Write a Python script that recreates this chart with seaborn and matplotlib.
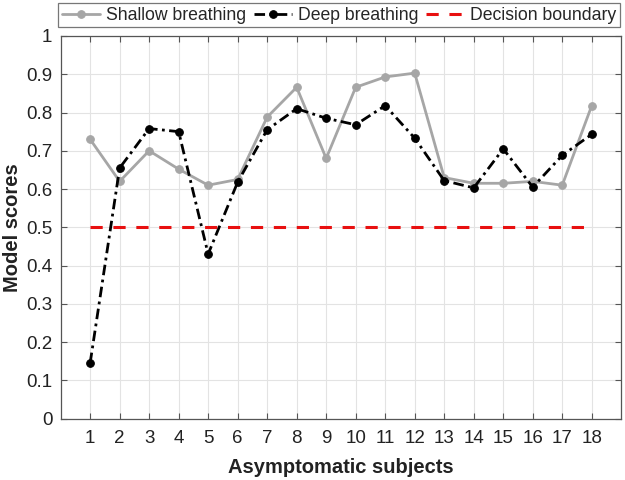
import pandas as pd
import numpy as np
import matplotlib.pyplot as plt
import seaborn as sns

subjects = list(range(1, 19))
shallow = [0.73, 0.62, 0.70, 0.652, 0.61, 0.625, 0.788, 0.866, 0.68, 0.866,
           0.893, 0.903, 0.63, 0.615, 0.615, 0.62, 0.61, 0.818]
deep = [0.145, 0.655, 0.758, 0.75, 0.43, 0.618, 0.755, 0.81, 0.785, 0.768,
        0.818, 0.733, 0.622, 0.603, 0.705, 0.605, 0.688, 0.743]
boundary = [0.5] * 18

df = pd.DataFrame({"subject": subjects, "shallow": shallow, "deep": deep, "boundary": boundary})

sns.set_style("whitegrid")
plt.rcParams['font.family'] = ['Liberation Sans', 'DejaVu Sans']

fig = plt.figure(figsize=(6.25, 4.8), dpi=100)
ax = fig.add_axes([0.097, 0.128, 0.897, 0.797])

sns.lineplot(data=df, x="subject", y="shallow", ax=ax, color="#a6a6a6", lw=2,
             marker="o", markersize=5.5, markeredgecolor="#a6a6a6", label="Shallow breathing")
sns.lineplot(data=df, x="subject", y="deep", ax=ax, color="black", lw=2,
             linestyle=(0, (3.8, 1.6, 1.0, 1.6)),
             marker="o", markersize=5.5, markeredgecolor="black", label="Deep breathing")
sns.lineplot(data=df, x="subject", y="boundary", ax=ax, color="#e81010", lw=2.2,
             linestyle=(0, (4, 3.5)), label="Decision boundary")

ax.set_xlim(0, 19)
ax.set_ylim(0, 1)
ax.set_xticks(subjects)
ax.set_yticks(np.arange(0, 1.01, 0.1))
ax.set_yticklabels(["0", "0.1", "0.2", "0.3", "0.4", "0.5", "0.6", "0.7", "0.8", "0.9", "1"])
ax.grid(True, color="#e3e3e3", lw=0.8)
for s in ax.spines.values():
    s.set_color("#555555")
    s.set_linewidth(0.9)
ax.tick_params(axis="both", direction="in", length=4, color="#555555", labelsize=13.5,
               top=True, right=True, bottom=True, left=True, labelcolor="#222222")
ax.tick_params(axis="x", pad=8)
ax.tick_params(axis="y", pad=6)
ax.set_xlabel("Asymptomatic subjects", fontsize=14.5, fontweight="bold", color="#222222", labelpad=8)
ax.set_ylabel("Model scores", fontsize=14.5, fontweight="bold", color="#222222", labelpad=3)

handles, labels = ax.get_legend_handles_labels()
ax.legend_.remove()
leg = fig.legend(handles, labels, loc="lower left", bbox_to_anchor=(0.093, 0.943, 0.899, 0.053),
                 mode="expand", ncol=3, fontsize=12.7, frameon=True, fancybox=False,
                 edgecolor="#555555", handlelength=2.15, columnspacing=0.4, handletextpad=0.35,
                 borderaxespad=0.0, borderpad=0.2)
leg.get_frame().set_linewidth(0.9)

fig.savefig("out.png", dpi=100)
